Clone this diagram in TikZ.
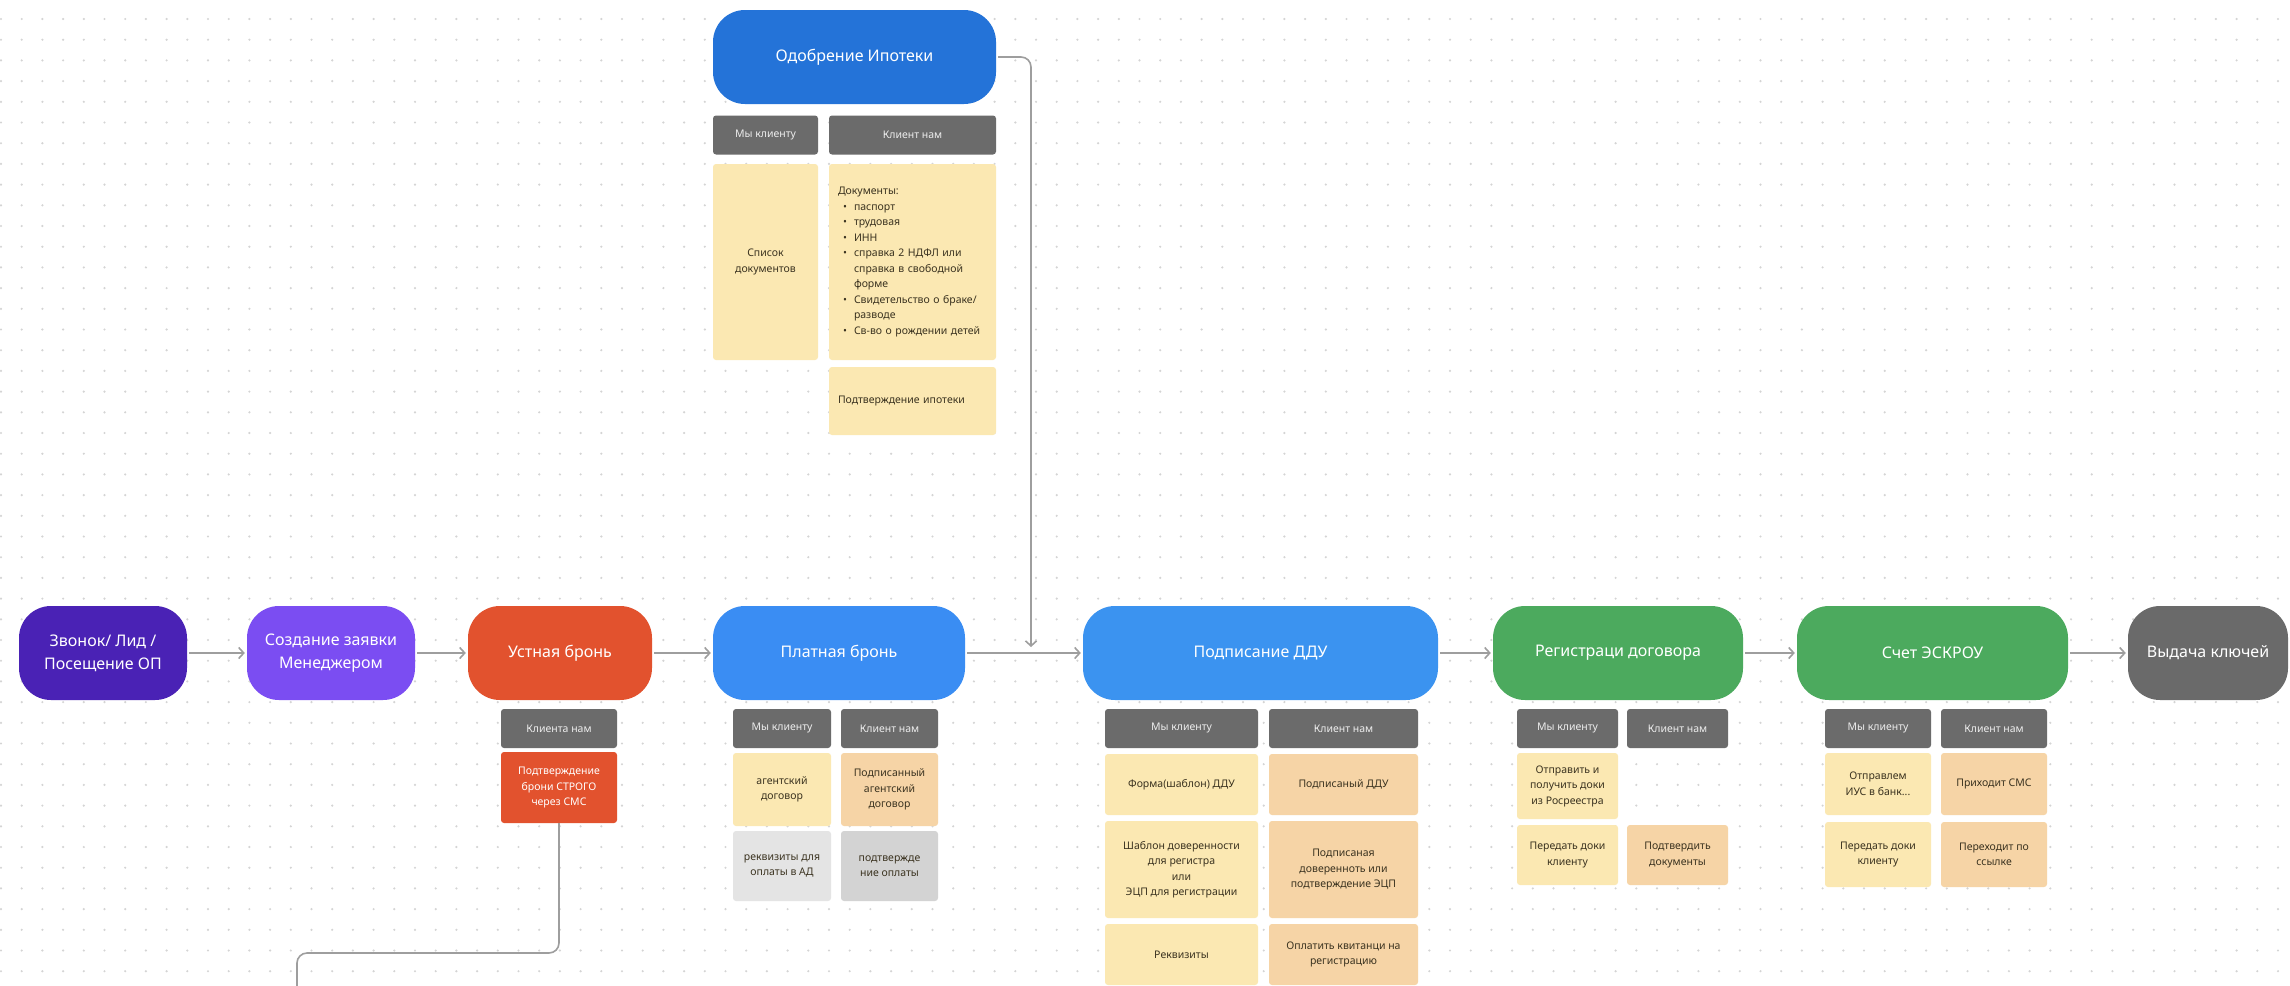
\documentclass[tikz,border=0pt]{standalone}
\usepackage{fontspec}
\setmainfont{Noto Sans}
\usetikzlibrary{arrows.meta}
\definecolor{cZv}{HTML}{4A22B5}
\definecolor{cSz}{HTML}{7B4DF2}
\definecolor{cUst}{HTML}{E2522E}
\definecolor{cPlat}{HTML}{3A8DF3}
\definecolor{cOdob}{HTML}{2473D8}
\definecolor{cDdu}{HTML}{3B93F0}
\definecolor{cGreen}{HTML}{4CAA5E}
\definecolor{cGrayNode}{HTML}{6A6A6A}
\definecolor{cHdr}{HTML}{6B6B6B}
\definecolor{cHdrText}{HTML}{EDEDED}
\definecolor{cYel}{HTML}{FBE8B2}
\definecolor{cOra}{HTML}{F6D4A6}
\definecolor{cLgray}{HTML}{E4E4E4}
\definecolor{cMgray}{HTML}{D3D3D3}
\definecolor{cCellText}{HTML}{3B3320}
\definecolor{cConn}{HTML}{9E9E9E}
\definecolor{cDot}{HTML}{D4D4D4}
\newcommand{\blt}[1]{\hspace*{5pt}\makebox[11pt][l]{•}#1}
\newcommand{\cnt}[1]{\hspace*{16pt}#1}
\begin{document}
\begin{tikzpicture}[x=1pt,y=-1pt,
  mainbox/.style={rounded corners=32pt, minimum height=94pt, inner sep=0pt, text=white,
    font=\fontsize{16}{23}\selectfont, align=center},
  hdr/.style={fill=cHdr, rounded corners=3pt, minimum height=39pt, inner sep=0pt,
    text=cHdrText, font=\fontsize{10.5}{14}\selectfont},
  cell/.style={rounded corners=3pt, inner sep=0pt, text=cCellText,
    font=\fontsize{10.5}{15.5}\selectfont, align=center},
  arr/.style={draw=cConn, line width=1.6pt, -{Straight Barb[length=5pt,width=11pt]},
    shorten >=2pt, shorten <=2pt},
  plain/.style={draw=cConn, line width=1.6pt, rounded corners=10pt},
  dotline/.style={draw=cDot, line width=2.4pt, line cap=round, dash pattern=on 0pt off 20.7pt}
]
\useasboundingbox (0,0) rectangle (2290,985);
\fill[white] (0,0) rectangle (2290,985);
\foreach \j in {0,...,47}{
  \draw[dotline] (1,{19+\j*20.7}) -- (2290,{19+\j*20.7});
}

% main row
\node[mainbox, fill=cZv, minimum width=168pt] (zv) at (103,653) {Звонок/ Лид /\\Посещение ОП};
\node[mainbox, fill=cSz, minimum width=168pt] (sz) at (331,653) {Создание заявки\\Менеджером};
\node[mainbox, fill=cUst, minimum width=184pt] (ust) at (560,653) {Устная бронь};
\node[mainbox, fill=cPlat, minimum width=252pt] (plat) at (839,653) {Платная бронь};
\node[mainbox, fill=cDdu, minimum width=355pt] (ddu) at (1260.5,653) {Подписание ДДУ};
\node[mainbox, fill=cGreen, minimum width=250pt] (reg) at (1618,653) {Регистраци договора};
\node[mainbox, fill=cGreen, minimum width=271pt] (sch) at (1932.5,653) {Счет ЭСКРОУ};
\node[mainbox, fill=cGrayNode, minimum width=160pt] (vyd) at (2208,653) {Выдача ключей};
\node[mainbox, fill=cOdob, minimum width=283pt] (odob) at (854.5,57) {Одобрение Ипотеки};

% Одобрение ипотеки
\node[hdr, minimum width=105pt] (oh1) at (765.5,135) {Мы клиенту};
\node[hdr, minimum width=167pt] (oh2) at (912.5,135) {Клиент нам};
\node[cell, fill=cYel, minimum width=105pt, minimum height=196pt] (oc1) at (765.5,262) {Список\\документов};
\node[cell, fill=cYel, minimum width=167pt, minimum height=196pt, text width=149pt, align=left] (oc2) at (912.5,262)
  {Документы:\\\blt{паспорт}\\\blt{трудовая}\\\blt{ИНН}\\\blt{справка 2 НДФЛ или}\\\cnt{справка в свободной}\\\cnt{форме}\\\blt{Свидетельство о браке/}\\\cnt{разводе}\\\blt{Св-во о рождении детей}};
\node[cell, fill=cYel, minimum width=167pt, minimum height=68pt, text width=149pt, align=left] (oc3) at (912.5,401) {Подтверждение ипотеки};

% Устная бронь
\node[hdr, minimum width=116pt] (uh) at (559,728.5) {Клиента нам};
\node[cell, fill=cUst, text=white, minimum width=116pt, minimum height=71pt] (ur) at (559,787.5) {Подтверждение\\брони СТРОГО\\через СМС};

% Платная бронь
\node[hdr, minimum width=98pt] (ph1) at (782,728.5) {Мы клиенту};
\node[hdr, minimum width=97pt] (ph2) at (889.5,728.5) {Клиент нам};
\node[cell, fill=cYel, minimum width=98pt, minimum height=73pt] (pc1) at (782,789.5) {агентский\\договор};
\node[cell, fill=cOra, minimum width=97pt, minimum height=73pt] (pc2) at (889.5,789.5) {Подписанный\\агентский\\договор};
\node[cell, fill=cLgray, minimum width=98pt, minimum height=70pt] (pc3) at (782,866) {реквизиты для\\оплаты в АД};
\node[cell, fill=cMgray, minimum width=97pt, minimum height=70pt] (pc4) at (889.5,866) {подтвержде\\ние оплаты};

% Подписание ДДУ
\node[hdr, minimum width=153pt] (dh1) at (1181.5,728.5) {Мы клиенту};
\node[hdr, minimum width=149pt] (dh2) at (1343.5,728.5) {Клиент нам};
\node[cell, fill=cYel, minimum width=153pt, minimum height=61pt] (dc1) at (1181.5,784.5) {Форма(шаблон) ДДУ};
\node[cell, fill=cOra, minimum width=149pt, minimum height=61pt] (dc2) at (1343.5,784.5) {Подписаный ДДУ};
\node[cell, fill=cYel, minimum width=153pt, minimum height=97pt] (dc3) at (1181.5,869.5) {Шаблон доверенности\\для регистра\\или\\ЭЦП для регистрации};
\node[cell, fill=cOra, minimum width=149pt, minimum height=97pt] (dc4) at (1343.5,869.5) {Подписаная\\доверенноть или\\подтверждение ЭЦП};
\node[cell, fill=cYel, minimum width=153pt, minimum height=61pt] (dc5) at (1181.5,954.5) {Реквизиты};
\node[cell, fill=cOra, minimum width=149pt, minimum height=61pt] (dc6) at (1343.5,954.5) {Оплатить квитанци на\\регистрацию};

% Регистрация договора
\node[hdr, minimum width=101pt] (rh1) at (1567.5,728.5) {Мы клиенту};
\node[hdr, minimum width=101pt] (rh2) at (1677.5,728.5) {Клиент нам};
\node[cell, fill=cYel, minimum width=101pt, minimum height=66pt] (rc1) at (1567.5,786) {Отправить и\\получить доки\\из Росреестра};
\node[cell, fill=cYel, minimum width=101pt, minimum height=60pt] (rc2) at (1567.5,855) {Передать доки\\клиенту};
\node[cell, fill=cOra, minimum width=101pt, minimum height=60pt] (rc3) at (1677.5,855) {Подтвердить\\документы};

% Счет ЭСКРОУ
\node[hdr, minimum width=106pt] (sh1) at (1878,728.5) {Мы клиенту};
\node[hdr, minimum width=106pt] (sh2) at (1994,728.5) {Клиент нам};
\node[cell, fill=cYel, minimum width=106pt, minimum height=62pt] (sc1) at (1878,784) {Отправлем\\ИУС в банк...};
\node[cell, fill=cOra, minimum width=106pt, minimum height=62pt] (sc2) at (1994,784) {Приходит СМС};
\node[cell, fill=cYel, minimum width=106pt, minimum height=65pt] (sc3) at (1878,854.5) {Передать доки\\клиенту};
\node[cell, fill=cOra, minimum width=106pt, minimum height=65pt] (sc4) at (1994,854.5) {Переходит по\\ссылке};

% connectors
\draw[arr] (zv.east) -- (sz.west);
\draw[arr] (sz.east) -- (ust.west);
\draw[arr] (ust.east) -- (plat.west);
\draw[arr] (plat.east) -- (ddu.west);
\draw[arr] (ddu.east) -- (reg.west);
\draw[arr] (reg.east) -- (sch.west);
\draw[arr] (sch.east) -- (vyd.west);

\coordinate (odobEnd) at (1031,647);
\draw[arr, rounded corners=10pt, shorten >=0pt] (odob.east) -| (odobEnd);

\coordinate (uBend) at (297,953);
\coordinate (uEnd) at (297,990);
\draw[plain] (ur.south) |- (uBend) -- (uEnd);
\end{tikzpicture}
\end{document}
